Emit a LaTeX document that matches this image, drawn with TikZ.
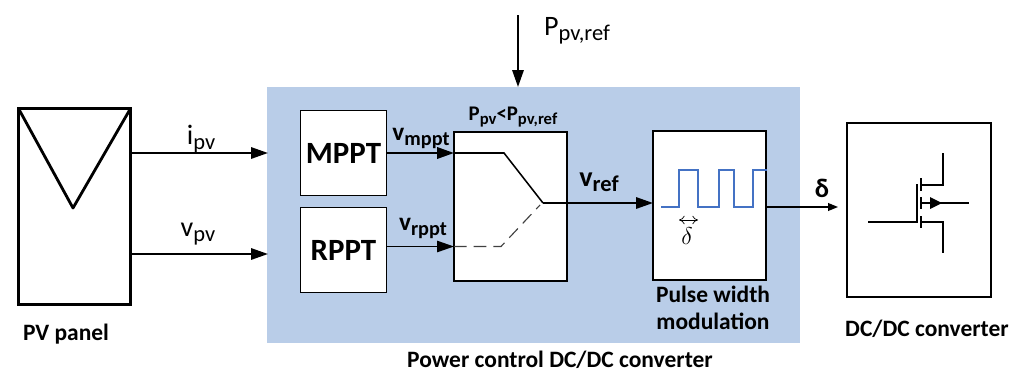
\documentclass[tikz,border=0pt]{standalone}
\usepackage{fontspec}
\setmainfont{Carlito}
\usetikzlibrary{arrows,arrows.meta,calc}
\definecolor{pannello}{RGB}{185,205,232}
\definecolor{impulso}{RGB}{68,114,196}
\newcommand{\pedice}[1]{\raisebox{-0.4ex}{\scalebox{0.8}{#1}}}
\tikzset{
>=Stealth,
blocco/.style={draw,fill=white,line width=1.3pt,inner sep=0pt,outer sep=0pt,anchor=north west},
freccia/.style={->,line width=1.5pt,>={Stealth[length=12pt,width=8pt,inset=0pt]}},
frecciafine/.style={->,line width=0.9pt,>={Stealth[length=7pt,width=5.5pt,inset=0pt]}},
traccia/.style={line width=0.9pt},
testo/.style={font=\fontsize{16.7}{19.5}\selectfont\bfseries,inner sep=0pt,align=center},
segnale/.style={font=\fontsize{20}{22}\selectfont,inner sep=0pt}}

\begin{document}
\begin{tikzpicture}[x=0.25mm,y=-0.25mm]
\useasboundingbox (0,0) rectangle (1021,371);

\node[fill=pannello,anchor=north west,minimum width=533*0.25mm,minimum height=256*0.25mm,inner sep=0pt,outer sep=0pt] (controllo) at (267,87) {};

\node[blocco,line width=2.3pt,minimum width=112*0.25mm,minimum height=196*0.25mm] (panel) at (18.5,108.5) {};
\node[blocco,minimum width=86*0.25mm,minimum height=85*0.25mm,font=\fontsize{22}{24}\selectfont\bfseries] (mppt) at (300.5,110.5) {MPPT};
\node[blocco,minimum width=86*0.25mm,minimum height=85*0.25mm,font=\fontsize{22}{24}\selectfont\bfseries] (rppt) at (300.5,207.5) {RPPT};
\node[blocco,minimum width=113*0.25mm,minimum height=149*0.25mm] (selettore) at (454,132) {};
\node[blocco,minimum width=113*0.25mm,minimum height=149*0.25mm] (pwm) at (653,131) {};
\node[blocco,minimum width=144*0.25mm,minimum height=174*0.25mm] (dcdc) at (847,123) {};

% punti di appoggio
\coordinate (ingresso1) at (268,153);
\coordinate (ingresso2) at (268,254);
\coordinate (alto) at (518,15);
\coordinate (basso) at (518,87);
\coordinate (sel1) at (454,153);
\coordinate (sel2) at (454,246.5);
\coordinate (nodo) at (543,203);
\coordinate (pwmin) at (653,203);
\coordinate (pwmout) at (766,207);
\coordinate (uscita) at (838,207);

\path[freccia] (panel.east |- ingresso1) edge (ingresso1);
\path[freccia] (panel.east |- ingresso2) edge (ingresso2);
\path[freccia] (alto) edge (basso);
\path[freccia,line width=1.8pt] (mppt.east |- sel1) edge (sel1);
\path[freccia,line width=1.1pt] (rppt.east |- sel2) edge (sel2);
\path[freccia] (nodo) edge (pwmin);
\path[frecciafine] (pwmout) edge (uscita);

% pannello
\coordinate (punta) at (73,208);
\draw[line width=2pt,line join=round] (panel.north west) -- (punta) -- (panel.north east);

% selettore
\draw[line width=1.1pt] (sel1) -- (504,153) -- (nodo);
\draw[line width=0.8pt,dash pattern=on 9pt off 5pt,black!75] (sel2) -- (501,246.5) -- (540,205);

% impulsi
\draw[line width=1.8pt,impulso] (661,207) -- (679,207) -- (679,170) -- (698,170) -- (698,207) -- (719,207) -- (719,170) -- (734,170) -- (734,207) -- (753,207) -- (753,170) -- (767,170);
\coordinate (d1) at (679,220);
\coordinate (d2) at (698,220);
\draw[{To[length=4pt,width=6pt]}-{To[length=4pt,width=6pt]},line width=0.5pt] (d1) -- (d2);
\node[inner sep=0pt,font=\fontsize{17}{19}\selectfont] (deltapiccolo) at (687,236) {$\delta$};

% mosfet
\coordinate (gate) at (868,222);
\coordinate (drain) at (943,153);
\coordinate (source) at (943,253);
\coordinate (body) at (969,203);
\draw[traccia] (gate) -- (917,222) -- (917,184);
\draw[line width=1.1pt] (921,178) -- (921,191) (921,197) -- (921,209) (921,216) -- (921,228);
\draw[traccia] (921,185) -- (943,185) -- (drain);
\draw[traccia] (921,222) -- (943,222) -- (source);
\draw[traccia] (921,203) -- (body);
\fill (930,197) -- (942,203) -- (930,209) -- cycle;

% etichette
\node[segnale] (ipv) at (201,139) {i\pedice{pv}};
\node[segnale] (vpv) at (198,234) {v\pedice{pv}};
\node[segnale] (pref) at (577,31) {P\pedice{pv,ref}};
\node[testo,font=\fontsize{18}{20}\selectfont\bfseries] (vmppt) at (421,138) {v\pedice{mppt}};
\node[testo,font=\fontsize{18}{20}\selectfont\bfseries] (vrppt) at (423,228) {v\pedice{rppt}};
\node[testo,font=\fontsize{14.8}{16}\selectfont\bfseries] (soglia) at (513,117) {P\pedice{pv}<P\pedice{pv,ref}};
\node[testo,font=\fontsize{20}{22}\selectfont\bfseries] (vref) at (599,182) {v\pedice{ref}};
\node[testo,font=\fontsize{19}{21}\selectfont\bfseries] (delta) at (822,188) {δ};
\node[testo] (pwmtesto) at (713,308) {Pulse width\\modulation};
\node[testo] (paneltesto) at (66,334) {PV panel};
\node[testo] (dcdctesto) at (927,329) {DC/DC converter};
\node[testo] (controllotesto) at (560,359.5) {Power control DC/DC converter};

\end{tikzpicture}
\end{document}
